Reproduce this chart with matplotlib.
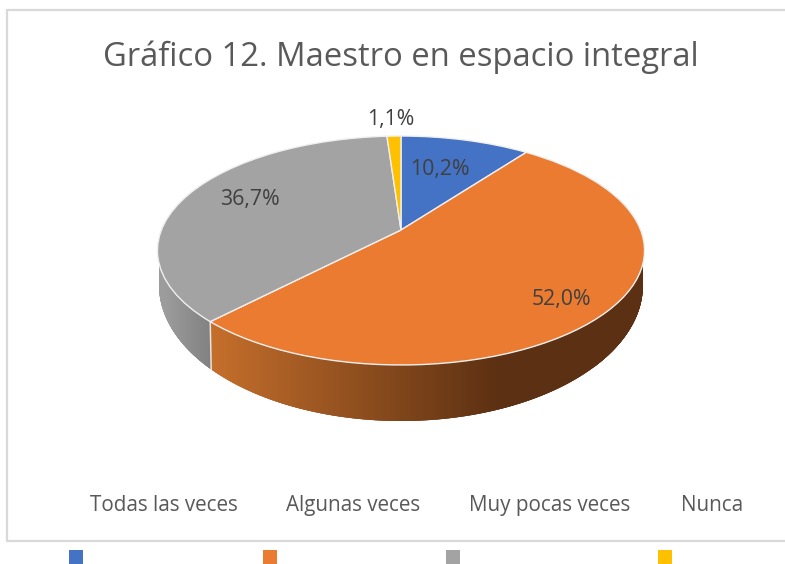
import numpy as np
import matplotlib
matplotlib.use("Agg")
import matplotlib.pyplot as plt
from matplotlib.collections import PolyCollection
from matplotlib.colors import to_rgb
from matplotlib.patches import Rectangle
from matplotlib.transforms import Transform

# Data
title = "Gráfico 12. Maestro en espacio integral"
categories = ["Todas las veces", "Algunas veces", "Muy pocas veces", "Nunca"]
values = [10.2, 52.0, 36.7, 1.1]

# Style
colors = ["#4472C4", "#EB7B31", "#A3A3A3", "#FFC000"]
side_ramps = {1: ("#C46E2B", "#5C3012"), 2: ("#9C9C9C", "#808080")}
ramp_x = {1: (215, 500), 2: (165, 212)}
W, H = 785, 564
CX, CY, A, B, K = 401, 230, 239.6, 110.8, 0.179
LOW_CY, LOW_HX, LOW_HY = 285, 242, 136
FONT = "Open Sans"


def project(u, v):
    w = 1 + K * v
    return CX + A * u / w, CY - B * v / w


def lower_rim(x):
    r = np.clip((x - CX) / LOW_HX, -1, 1)
    return LOW_CY + LOW_HY * np.sqrt(1 - r ** 2)


class Tilt(Transform):
    input_dims = output_dims = 2
    is_affine = False
    has_inverse = False

    def transform_non_affine(self, values):
        p = np.asarray(values, dtype=float)
        x, y = project(p[:, 0], p[:, 1])
        return np.column_stack([x, y])


fig = plt.figure(figsize=(W / 100, H / 100), dpi=100)
ax = fig.add_axes([0, 0, 1, 1])

# Slices of the top face
wedges, _ = ax.pie(values, colors=colors, startangle=90, counterclock=False,
                   wedgeprops=dict(edgecolor="#F0F0F0", linewidth=1.0, zorder=3))
ax.set_aspect("auto")
ax.set_xlim(0, W)
ax.set_ylim(H, 0)
ax.axis("off")
tilt = Tilt() + ax.transData
for w in wedges:
    w.set_transform(tilt)
    w.set_clip_on(False)

# Side wall, built from the same cumulative shares
edges = np.concatenate([[0], np.cumsum(values)]) / sum(values) * 2 * np.pi


def mix(c0, c1, t):
    a, b = np.array(to_rgb(c0)), np.array(to_rgb(c1))
    return tuple(a + (b - a) * np.clip(t, 0, 1))


for i in side_ramps:
    th = np.linspace(edges[i], edges[i + 1], 300)
    xt, yt = project(np.sin(th), np.cos(th))
    keep = (np.cos(th) < 0.5) & (np.abs(xt - CX) <= LOW_HX)
    xt, yt = xt[keep], yt[keep]
    yb = lower_rim(xt)
    order = np.arange(len(xt) - 1)
    quads, cols = [], []
    for j in order:
        k = min(j + 3, len(xt) - 1)  # overlap the next strips so no seams show
        quads.append([(xt[j], yt[j]), (xt[k], yt[k]), (xt[k], yb[k]), (xt[j], yb[j])])
        x0, x1 = ramp_x[i]
        cols.append(mix(*side_ramps[i], (xt[j] - x0) / (x1 - x0)))
    ax.add_collection(PolyCollection(quads, facecolors=cols, edgecolors="none",
                                     linewidths=0, zorder=2))

# Divider between the two visible wall pieces
th = edges[2]
x0, y0 = project(np.sin(th), np.cos(th))
ax.plot([x0, x0 + 1], [y0, lower_rim(x0 + 1)], color="#E4E4E4", lw=1.1, zorder=2.5)

# Outer frame
ax.plot([W + 5, 7, 7, W + 5], [10, 10, 541, 541], color="#D9D9D9", lw=1.6, zorder=1)

# Texts
ax.text(401, 57, title, ha="center", va="center", color="#595959",
        fontsize=23.6, family=FONT)

label_xy = [(440, 169), (561, 300), (250, 200), (391, 120)]
for val, (x, y) in zip(values, label_xy):
    ax.text(x, y, f"{val:.1f}%".replace(".", ","), ha="center", va="center",
            color="#404040", fontsize=15.3, family=FONT, zorder=5)

legend_text_x = [90, 286, 469, 681]
legend_box_x = [69, 263, 446, 658]
for name, tx, bx, c in zip(categories, legend_text_x, legend_box_x, colors):
    ax.text(tx, 511, name, ha="left", va="baseline", color="#595959",
            fontsize=14.85, family=FONT)
    ax.add_patch(Rectangle((bx, 550), 14, 14, facecolor=c, edgecolor="none",
                           clip_on=False))

fig.savefig("out.png", dpi=100)
